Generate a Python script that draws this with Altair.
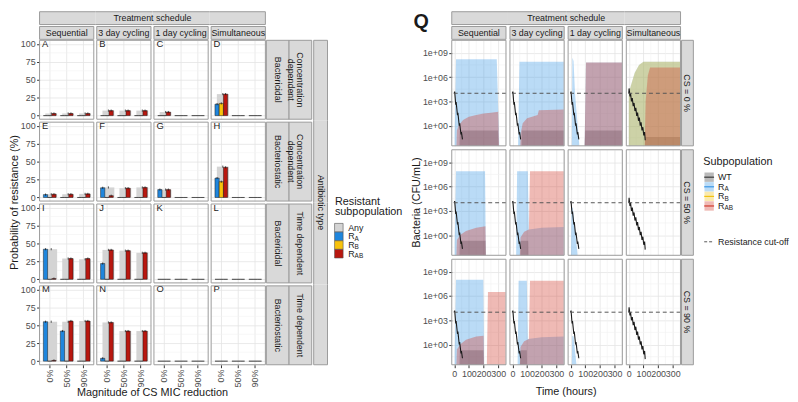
import altair as alt
import pandas as pd

FONT = "Liberation Sans"

# ---------------- left block: probability of resistance (%) ----------------
schedules = ["Sequential", "3 day cycling", "1 day cycling", "Simultaneous"]
cs_levels = ["0%", "50%", "90%"]
groups = ["Any", "RA", "RB", "RAB"]
group_main = ["Any", "R", "R", "R"]
group_sub = ["", "A", "B", "AB"]
action_labels = ["Bactericidal", "Bacteriostatic", "Bactericidal", "Bacteriostatic"]
pk_labels = ["Concentration\ndependent", "Concentration\ndependent", "Time dependent", "Time dependent"]
panel_letters = list("ABCDEFGHIJKLMNOP")
prob_ticks = [0, 25, 50, 75, 100]
prob_minor = [12.5, 37.5, 62.5, 87.5]

# one row per CS level: [Any, RA, RB, RAB]
prob_A = [[3, 0, 0, 3], [3, 0, 0, 3], [3, 0, 0, 3]]
prob_B = [[7, 0, 0, 7], [7, 0, 0, 7], [7, 0, 0, 7]]
prob_C = [[5, 0, 0, 5], [0, 0, 0, 0], [0, 0, 0, 0]]
prob_D = [[30, 16, 17, 30], [0, 0, 0, 0], [0, 0, 0, 0]]
prob_E = [[4.5, 4, 0, 4.5], [4.5, 0, 0, 4.5], [5, 0, 0, 5]]
prob_F = [[14, 13.5, 0, 2.5], [13, 0, 0, 13], [14, 0, 0, 14]]
prob_G = [[11, 11, 0, 11], [0, 0, 0, 0], [0, 0, 0, 0]]
prob_H = [[43, 27, 22, 42], [0, 0, 0, 0], [0, 0, 0, 0]]
prob_I = [[42, 42, 0, 1], [29, 0, 0, 29], [28, 0, 0, 29]]
prob_J = [[41, 22, 0, 41], [40, 0, 0, 40], [37, 0, 0, 37]]
prob_K = [[0, 0, 0, 0], [0, 0, 0, 0], [0, 0, 0, 0]]
prob_L = [[0, 0, 0, 0], [0, 0, 0, 0], [0, 0, 0, 0]]
prob_M = [[55, 55, 0, 1], [55, 42, 0, 56], [56, 0, 0, 56]]
prob_N = [[54, 4, 0, 54], [42, 0, 0, 42], [42, 0, 0, 42]]
prob_O = [[0, 0, 0, 0], [0, 0, 0, 0], [0, 0, 0, 0]]
prob_P = [[0, 0, 0, 0], [0, 0, 0, 0], [0, 0, 0, 0]]
prob_err = 1.5

# ---------------- right block: bacteria (log10 CFU/mL) ----------------
cs_rows = ["CS = 0 %", "CS = 50 %", "CS = 90 %"]
pops = ["WT", "RA", "RB", "RAB"]
pop_main = ["WT", "R", "R", "R"]
pop_sub = ["", "A", "B", "AB"]
time_ticks = [0, 100, 200, 300]
time_minor = [50, 150, 250, 350]
cfu_tick_exp = [0, 3, 6, 9]
cfu_minor_exp = [-1.5, 1.5, 4.5, 7.5]
cutoff_exp = 4
F = -3  # below the lower edge of the panels

# ribbons: (time h, lower log10, upper log10)
q0_seq = {"WT": [[(35, F, F), (38, F, -0.6), (298, F, -0.6), (302, F, F)]],
          "RA": [[(3, F, -1.0), (12, F, 8.2), (290, F, 8.2), (308, F, F)]],
          "RAB": [[(14, F, F), (18, F, -0.6), (30, F, 0.0), (60, F, 0.7), (100, F, 1.1), (150, F, 1.3),
                   (200, F, 1.5), (250, F, 1.6), (300, F, 1.7), (306, F, F)]]}
q0_3d = {"WT": [[(62, F, F), (64, F, -0.6), (350, F, -0.6)]],
         "RA": [[(38, F, F), (48, F, 7.9), (350, F, 7.9)]],
         "RAB": [[(52, F, F), (58, F, -0.8), (70, F, 0.3), (100, F, 0.9), (150, F, 1.2), (172, F, 1.3),
                  (180, F, 1.9), (350, F, 2.0)]]}
q0_1d = {"WT": [[(95, F, F), (100, F, -0.6), (350, F, -0.6)]],
         "RA": [[(8, F, F), (12, F, 8.4), (20, F, 8.0), (30, F, 4.0), (48, F, 0.0), (62, F, F)],
                [(95, F, F), (105, F, 7.8), (350, F, 7.8)]],
         "RAB": [[(95, F, F), (105, F, 7.8), (350, F, 7.8)]]}
q0_sim = {"WT": [[(108, F, F), (112, F, -1.4), (350, F, -1.4)]],
          "RA": [[(0, F, 4.0), (15, F, 5.0), (40, F, 6.5), (70, F, 7.5), (100, F, 7.9), (350, F, 7.9)]],
          "RB": [[(0, F, 4.0), (15, F, 5.0), (40, F, 6.5), (70, F, 7.5), (100, F, 7.9), (350, F, 7.9)]],
          "RAB": [[(108, F, F), (115, F, 3.0), (130, F, 6.2), (145, F, 7.2), (350, F, 7.2)]]}
q50_seq = {"WT": [[(35, F, F), (38, F, -0.7), (213, F, -0.7), (216, F, F)]],
           "RA": [[(3, F, -1.0), (12, F, 7.9), (210, F, 7.9), (216, F, F)]],
           "RAB": [[(14, F, F), (18, F, -0.6), (40, F, 0.0), (80, F, 0.5), (150, F, 0.9), (213, F, 1.1),
                    (216, F, F)]]}
q50_3d = {"WT": [[(55, F, F), (57, F, -0.7), (108, F, -0.7), (110, F, F)]],
          "RA": [[(25, F, F), (32, F, 7.9), (105, F, 7.9), (112, F, 0.7), (200, F, 0.9), (350, F, 1.0)]],
          "RAB": [[(50, F, F), (55, F, -0.3), (80, F, 0.4), (112, F, 0.7), (120, F, 7.9), (350, F, 7.9)]]}
q50_1d = {"RA": [[(3, F, F), (6, F, 3.5), (15, F, 3.3), (45, F, -2.0), (50, F, F)]]}
q50_sim = {}
q90_seq = {"WT": [[(35, F, F), (38, F, -0.7), (199, F, -0.7), (202, F, F)]],
           "RA": [[(3, F, -1.0), (12, F, 8.0), (198, F, 8.0), (204, F, F)]],
           "RAB": [[(14, F, F), (18, F, -0.6), (40, F, 0.0), (80, F, 0.6), (150, F, 1.0), (200, F, 1.1),
                    (203, F, F)],
                   [(222, F, F), (230, F, 6.5), (350, F, 6.5)]]}
q90_3d = {"WT": [[(52, F, F), (54, F, -0.7), (98, F, -0.7), (100, F, F)]],
          "RA": [[(35, F, F), (42, F, 7.9), (98, F, 7.9), (105, F, 0.7), (200, F, 0.9), (350, F, 1.0)]],
          "RAB": [[(50, F, F), (55, F, -0.3), (80, F, 0.4), (112, F, 0.7), (120, F, 7.9), (350, F, 7.9)]]}
q90_1d = {"RA": [[(8, F, F), (11, F, 1.1), (20, F, 1.0), (40, F, -2.5), (45, F, F)]]}
q90_sim = {}

# wild type (time h, log10 CFU/mL)
wt_line_cycle = [(0, 4.0), (3, 4.2), (10, 2.6), (13, 2.9), (22, 1.3), (25, 1.6), (34, 0.0), (37, 0.3),
                 (46, -1.1), (49, -0.8), (56, -1.7)]
wt_line_sim = [(0, 4.0), (2, 4.6), (8, 3.6), (12, 4.0), (18, 3.0), (24, 3.4), (30, 2.4), (36, 2.8),
               (42, 1.8), (48, 2.2), (54, 1.2), (60, 1.6), (66, 0.6), (72, 1.0), (78, 0.0), (84, 0.4),
               (90, -0.6), (96, -0.2), (102, -1.2), (108, -0.8), (112, -1.8)]

# ---------------- styling ----------------
bar_colors = {"Any": "#d4d4d4", "RA": "#1f86dd", "RB": "#f8c20c", "RAB": "#b8170f"}
pop_colors = {"WT": "#3a3a3a", "RA": "#3a97e6", "RB": "#f2c314", "RAB": "#d23a2c"}
STRIP_FILL = "#d9d9d9"
STRIP_LINE = "#9a9a9a"
BORDER = "#9a9a9a"
GRID = "#e4e4e4"
GRID_MINOR = "#f2f2f2"
TXT = "#1a1a1a"
TICK_TXT = "#4d4d4d"
TICK_COL = "#333333"
CUT_COL = "#555555"
WT_LINE = "#1a1a1a"

W1, H1, S1 = 55, 80, 3
W2, H2, S2 = 55, 107, 4


def one():
    return pd.DataFrame({"k": [0]})


def rect(x0, x1, y0, y1, fill=STRIP_FILL, stroke=None):
    kw = dict(fill=fill)
    if stroke:
        kw.update(stroke=stroke, strokeWidth=1)
    return alt.Chart(one()).mark_rect(**kw).encode(
        x=alt.value(x0), x2=alt.value(x1), y=alt.value(y0), y2=alt.value(y1))


def hline(x0, x1, y, color=STRIP_LINE, dash=None, width=1):
    kw = dict(color=color, strokeWidth=width)
    if dash:
        kw["strokeDash"] = dash
    return alt.Chart(one()).mark_rule(**kw).encode(
        x=alt.value(x0), x2=alt.value(x1), y=alt.value(y))


def vline(x, y0, y1, color=STRIP_LINE):
    return alt.Chart(one()).mark_rule(color=color, strokeWidth=1).encode(
        x=alt.value(x), y=alt.value(y0), y2=alt.value(y1))


def square(x, y, fill, size, opacity=1.0, stroke=None):
    kw = dict(shape="square", filled=True, size=size, fill=fill, opacity=opacity, strokeWidth=0)
    if stroke:
        kw.update(stroke=stroke, strokeWidth=0.6)
    return alt.Chart(one()).mark_point(**kw).encode(x=alt.value(x), y=alt.value(y))


def label(x, y, text, size=9, angle=0, color=TXT, bold=False, align="center", baseline="middle", dy=0):
    kw = dict(font=FONT, fontSize=size, color=color, align=align, baseline=baseline,
              lineBreak="\n", lineHeight=size + 1)
    if angle:
        kw["angle"] = angle
    if bold:
        kw["fontWeight"] = "bold"
    if dy:
        kw["dy"] = dy
    return alt.Chart(pd.DataFrame({"txt": [text]})).mark_text(**kw).encode(
        x=alt.value(x), y=alt.value(y), text="txt:N")


def top_strips(c, W, text, S):
    L = []
    x0 = 0 if c == 0 else -S / 2
    x1 = W if c == 3 else W + S / 2
    L.append(rect(x0, x1, -29, -16))
    L.append(hline(x0, x1, -29))
    L.append(hline(x0, x1, -16))
    if c == 0:
        L.append(vline(0, -29, -16))
    if c == 3:
        L.append(vline(W, -29, -16))
    L.append(rect(0, W, -14, -1, stroke=STRIP_LINE))
    L.append(label(W / 2, -7.5, text))
    return L


def legend_left(x0, y0):
    L = [rect(x0, x0 + 83, y0, y0 + 1, fill="transparent")]
    L.append(label(x0 + 7, y0, "Resistant", size=11, align="left"))
    L.append(label(x0 + 7, y0 + 10.7, "subpopulation", size=11, align="left"))
    for i, g in enumerate(groups):
        y = y0 + 26.5 + i * 8.8
        L.append(square(x0 + 11, y, bar_colors[g], 75, stroke="#555555"))
        L.append(label(x0 + 20.5, y, group_main[i], align="left"))
        if group_sub[i]:
            L.append(label(x0 + 27, y, group_sub[i], size=6.5, align="left", dy=2.5))
    return L


def legend_right(x0, y0):
    L = [rect(x0, x0 + 97, y0, y0 + 1, fill="transparent")]
    L.append(label(x0 + 9.5, y0, "Subpopulation", size=11, align="left"))
    for i, p in enumerate(pops):
        y = y0 + 15.2 + i * 9.73
        L.append(square(x0 + 15.5, y, pop_colors[p], 90, opacity=0.35))
        L.append(hline(x0 + 10.5, x0 + 20.5, y, color=pop_colors[p], width=1.2))
        L.append(label(x0 + 24.5, y, pop_main[i], align="left"))
        if pop_sub[i]:
            L.append(label(x0 + 31, y, pop_sub[i], size=6.5, align="left", dy=2.5))
    L.append(hline(x0 + 10.5, x0 + 20.5, y0 + 80.7, color=CUT_COL, dash=[3, 2]))
    L.append(label(x0 + 24.5, y0 + 80.7, "Resistance cut-off", align="left"))
    return L


# ---------------- left block ----------------
prob_panels = [[prob_A, prob_B, prob_C, prob_D], [prob_E, prob_F, prob_G, prob_H],
               [prob_I, prob_J, prob_K, prob_L], [prob_M, prob_N, prob_O, prob_P]]
xs1 = alt.Scale(domain=cs_levels, paddingInner=0, paddingOuter=0.1)
ys1 = alt.Scale(domain=[-5, 105], nice=False, zero=False)
xo1 = alt.Scale(domain=groups[1:], paddingInner=0, paddingOuter=0.5)


def axis_x1(r):
    common = dict(title=None, domain=False, grid=True, gridColor=GRID, gridWidth=0.8, bandPosition=0.5)
    if r == 3:
        return alt.Axis(**common, labelAngle=270, labelFont=FONT, labelFontSize=9, labelColor=TICK_TXT,
                        tickColor=TICK_COL, tickSize=3, labelPadding=1.5)
    return alt.Axis(**common, labels=False, ticks=False)


def axis_y1(c):
    common = dict(values=prob_ticks, title=None, domain=False, grid=True, gridColor=GRID, gridWidth=0.8)
    if c == 0:
        return alt.Axis(**common, labelFont=FONT, labelFontSize=9, labelColor=TICK_TXT, tickColor=TICK_COL,
                        tickSize=3, labelPadding=1.5)
    return alt.Axis(**common, labels=False, ticks=False)


def bar_panel(r, c):
    vals = prob_panels[r][c]
    recs = []
    for k, cs in enumerate(cs_levels):
        for g, v in zip(groups, vals[k]):
            recs.append(dict(cs=cs, grp=g, val=v, lo=max(v - prob_err, 0), hi=v + prob_err,
                             col=bar_colors[g]))
    df = pd.DataFrame(recs)
    ax, ay = axis_x1(r), axis_y1(c)
    X = alt.X("cs:N", scale=xs1, axis=ax)
    L = []
    L.append(alt.Chart(pd.DataFrame({"v": prob_minor})).mark_rule(color=GRID_MINOR, strokeWidth=0.6)
             .encode(y=alt.Y("v:Q", scale=ys1, axis=ay)))
    anyd = df[df.grp == "Any"]
    L.append(alt.Chart(anyd).mark_bar(color=bar_colors["Any"], width=alt.RelativeBandSize(0.7), xOffset=1.5)
             .encode(x=X, y=alt.Y("val:Q", scale=ys1, axis=ay), y2=alt.datum(0)))
    cold = df[df.grp != "Any"]
    L.append(alt.Chart(cold).mark_bar(stroke="#1a1a1a", strokeWidth=0.5)
             .encode(x=X, xOffset=alt.XOffset("grp:N", scale=xo1),
                     y=alt.Y("val:Q", scale=ys1, axis=ay), y2=alt.datum(0),
                     fill=alt.Fill("col:N", scale=None)))
    errc = cold[cold.val > 0]
    if len(errc):
        L.append(alt.Chart(errc).mark_rule(color="#111111", strokeWidth=0.7)
                 .encode(x=X, xOffset=alt.XOffset("grp:N", scale=xo1),
                         y=alt.Y("lo:Q", scale=ys1, axis=ay), y2="hi:Q"))
    erra = anyd[anyd.val > 0]
    if len(erra):
        L.append(alt.Chart(erra).mark_rule(color="#111111", strokeWidth=0.7, xOffset=1.5)
                 .encode(x=X, y=alt.Y("lo:Q", scale=ys1, axis=ay), y2="hi:Q"))
    L.append(alt.Chart(pd.DataFrame({"t": [panel_letters[r * 4 + c]]}))
             .mark_text(font=FONT, fontSize=9.5, color=TXT, align="left", baseline="middle")
             .encode(x=alt.value(2.5), y=alt.YDatum(100, scale=ys1, axis=ay), text="t:N"))
    L.append(rect(0, W1, 0, H1, fill="transparent", stroke=BORDER))
    if r == 0:
        L += top_strips(c, W1, schedules[c], S1)
        if c == 3:
            L.append(label((4 * W1 + 3 * S1) / 2 - 3 * (W1 + S1), -22.5, "Treatment schedule"))
    if c == 3:
        L.append(rect(W1 + 1, W1 + 24, 0, H1, stroke=STRIP_LINE))
        L.append(label(W1 + 12.5, H1 / 2, action_labels[r], angle=90))
        L.append(rect(W1 + 24, W1 + 47, 0, H1, stroke=STRIP_LINE))
        L.append(label(W1 + 35.5, H1 / 2, pk_labels[r], angle=90))
        y0 = 0 if r == 0 else -S1 / 2
        y1 = H1 if r == 3 else H1 + S1 / 2
        L.append(rect(W1 + 49, W1 + 63, y0, y1))
        L.append(vline(W1 + 49, y0, y1))
        L.append(vline(W1 + 63, y0, y1))
        if r == 0:
            L.append(hline(W1 + 49, W1 + 63, 0))
        if r == 3:
            L.append(hline(W1 + 49, W1 + 63, H1))
            L.append(label(W1 + 56, (4 * H1 + 3 * S1) / 2 - 3 * (H1 + S1), "Antibiotic type", angle=90))
    if r == 1 and c == 3:
        # legend sits beside the lower half of the second row
        L += legend_left(W1 + 63.5, 80.5)
    if r == 0 and c == 0:
        L.append(label(-25, (4 * H1 + 3 * S1) / 2, "Probability of resistance (%)", size=11, angle=270))
    if r == 3 and c == 3:
        L.append(label((4 * W1 + 3 * S1) / 2 - 3 * (W1 + S1), H1 + 34, "Magnitude of CS MIC reduction",
                       size=11, baseline="bottom"))
    return alt.layer(*L).properties(width=W1, height=H1)


left = alt.concat(*[bar_panel(r, c) for r in range(4) for c in range(4)], columns=4, spacing=S1,
                  bounds="flush")

# ---------------- right block ----------------
area_panels = [[q0_seq, q0_3d, q0_1d, q0_sim], [q50_seq, q50_3d, q50_1d, q50_sim],
               [q90_seq, q90_3d, q90_1d, q90_sim]]
wt_lines = [wt_line_cycle, wt_line_cycle, wt_line_cycle, wt_line_sim]
xs2 = alt.Scale(domain=[-17, 353], nice=False, zero=False)
ys2 = alt.Scale(type="log", domain=[10 ** -2.5, 10 ** 10.55], nice=False)


def axis_x2(r):
    common = dict(values=time_ticks, title=None, domain=False, grid=True, gridColor=GRID, gridWidth=0.8)
    if r == 2:
        return alt.Axis(**common, labelFont=FONT, labelFontSize=9, labelColor=TICK_TXT, tickColor=TICK_COL,
                        tickSize=3, labelPadding=1.5, labelOverlap=False, labelFlush=False, format="d")
    return alt.Axis(**common, labels=False, ticks=False)


def axis_y2(c):
    common = dict(values=[10.0 ** e for e in cfu_tick_exp], title=None, domain=False, grid=True,
                  gridColor=GRID, gridWidth=0.8)
    if c == 0:
        return alt.Axis(**common, labelExpr="'1e+0' + round(log(datum.value) / LN10)", labelFont=FONT,
                        labelFontSize=9, labelColor=TICK_TXT, tickColor=TICK_COL, tickSize=3,
                        labelPadding=1.5, labelOverlap=False)
    return alt.Axis(**common, labels=False, ticks=False)


def ribbons_df(panel):
    recs = []
    for sub in pops:
        for si, seg in enumerate(panel.get(sub, [])):
            for t, lo, hi in seg:
                recs.append(dict(t=t, lo=10.0 ** lo, hi=10.0 ** hi, col=pop_colors[sub], seg=f"{sub}{si}"))
    return pd.DataFrame(recs)


def area_panel(r, c):
    ax, ay = axis_x2(r), axis_y2(c)
    L = []
    L.append(alt.Chart(pd.DataFrame({"v": time_minor})).mark_rule(color=GRID_MINOR, strokeWidth=0.6)
             .encode(x=alt.X("v:Q", scale=xs2, axis=ax)))
    L.append(alt.Chart(pd.DataFrame({"v": [10.0 ** e for e in cfu_minor_exp]}))
             .mark_rule(color=GRID_MINOR, strokeWidth=0.6).encode(y=alt.Y("v:Q", scale=ys2, axis=ay)))
    rib = ribbons_df(area_panels[r][c])
    if len(rib):
        L.append(alt.Chart(rib).mark_area(opacity=0.35, clip=True)
                 .encode(x=alt.X("t:Q", scale=xs2, axis=ax),
                         y=alt.Y("hi:Q", scale=ys2, axis=ay, stack=None), y2="lo:Q",
                         fill=alt.Fill("col:N", scale=None), detail="seg:N"))
    wt = pd.DataFrame(wt_lines[c], columns=["t", "e"])
    wt["v"] = 10.0 ** wt["e"]
    L.append(alt.Chart(wt).mark_line(color=WT_LINE, strokeWidth=1.1, clip=True)
             .encode(x=alt.X("t:Q", scale=xs2, axis=ax), y=alt.Y("v:Q", scale=ys2, axis=ay)))
    L.append(alt.Chart(pd.DataFrame({"v": [10.0 ** cutoff_exp]}))
             .mark_rule(color=CUT_COL, strokeDash=[4, 3], strokeWidth=1)
             .encode(y=alt.Y("v:Q", scale=ys2, axis=ay)))
    L.append(rect(0, W2, 0, H2, fill="transparent", stroke=BORDER))
    if r == 0:
        L += top_strips(c, W2, schedules[c], S2)
        if c == 3:
            L.append(label((4 * W2 + 3 * S2) / 2 - 3 * (W2 + S2), -22.5, "Treatment schedule"))
            L += legend_right(W2 + 13.5, 123.6)
    if c == 3:
        L.append(rect(W2 + 1, W2 + 13, 0, H2, stroke=STRIP_LINE))
        L.append(label(W2 + 7, H2 / 2, cs_rows[r], angle=90))
    if r == 0 and c == 0:
        L.append(label(-35, (3 * H2 + 2 * S2) / 2, "Bacteria (CFU/mL)", size=11, angle=270))
        L.append(label(-31, -28, "Q", size=20, bold=True, baseline="top"))
    if r == 2 and c == 3:
        L.append(label((4 * W2 + 3 * S2) / 2 - 3 * (W2 + S2), H2 + 33, "Time (hours)", size=11,
                       baseline="bottom"))
    return alt.layer(*L).properties(width=W2, height=H2)


right = alt.concat(*[area_panel(r, c) for r in range(3) for c in range(4)], columns=4, spacing=S2,
                   bounds="flush")

chart = alt.hconcat(left, right, spacing=0).properties(
    padding={"left": 0, "right": 0, "top": 0, "bottom": 0}, background="white"
).configure(font=FONT).configure_view(stroke="transparent")

chart.save("out.html", embed_options={"renderer": "svg", "actions": False})
